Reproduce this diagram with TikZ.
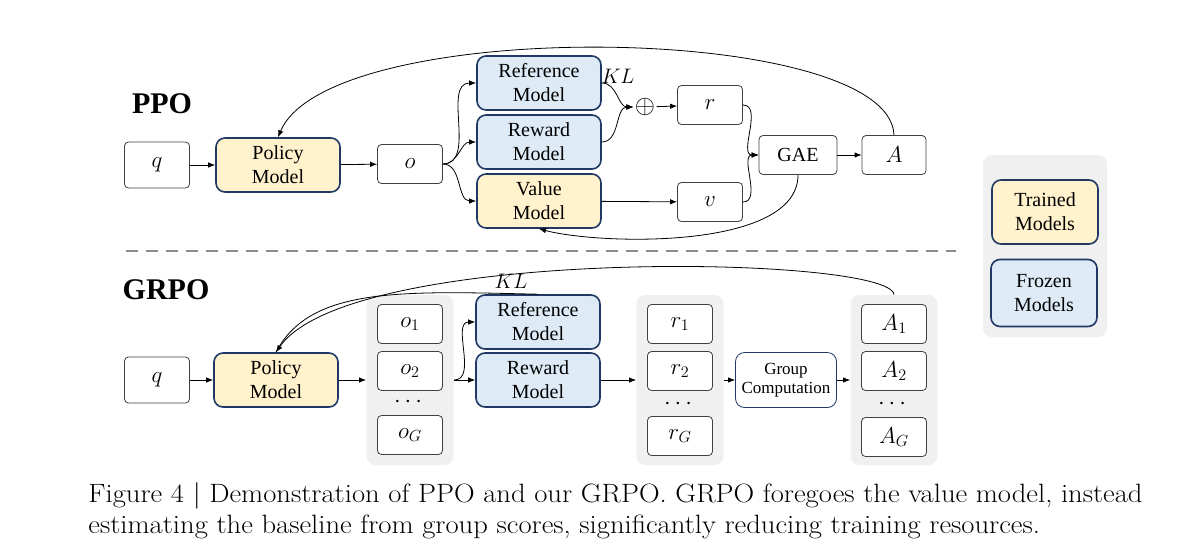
\documentclass[tikz,border=0pt]{standalone}
\usepackage{fix-cm}
\usepackage{amsmath}
\usepackage{amssymb}
\usepackage{fontspec}
\newfontfamily\diagfont{Liberation Serif}
\usepackage{tikz}
\usetikzlibrary{shapes,arrows.meta,positioning}
\definecolor{navy}{HTML}{1F3864}
\definecolor{trainfill}{HTML}{FFF2CC}
\definecolor{frozenfill}{HTML}{DEEBF7}
\definecolor{groupgray}{HTML}{F0F0F0}
\definecolor{dashgray}{HTML}{8C8C8C}

\begin{document}
\begin{tikzpicture}[->, >={Latex[length=7pt,width=5.5pt]}, x=1pt, y=1pt, line width=0.8pt]
        \tikzstyle{plain}=[draw=black!75, fill=white, rounded corners=4pt, line width=0.8pt, minimum width=65pt, minimum height=39pt, inner sep=0pt, font=\fontsize{23}{26}\selectfont]
        \tikzstyle{trained}=[draw=navy, fill=trainfill, rounded corners=9pt, line width=1.6pt, minimum width=124pt, minimum height=54pt, inner sep=0pt, align=center, font=\diagfont\fontsize{20}{24}\selectfont]
        \tikzstyle{frozen}=[trained, fill=frozenfill]
        \tikzstyle{groupbg}=[fill=groupgray, rounded corners=9pt, minimum width=87pt, minimum height=170pt, inner sep=0pt]
        \tikzstyle{title}=[font=\diagfont\bfseries\fontsize{30}{32}\selectfont]
        \tikzstyle{dots}=[font=\fontsize{24}{26}\selectfont, inner sep=0pt]
        \useasboundingbox (0,0) rectangle (1200,-550);

        % PPO
        \node[title]    (ppo)   at (162,-104)   {PPO};
        \node[plain, minimum height=46pt]    (q1)  at (157,-165)   {$q$};
        \node[trained]  (pol1)  at (278,-165)   {Policy\\Model};
        \node[plain]    (o)     at (410,-164)   {$o$};
        \node[frozen]   (ref1)  at (539,-83)    {Reference\\Model};
        \node[frozen]   (rew1)  at (539,-142)   {Reward\\Model};
        \node[trained]  (val)   at (539,-201)   {Value\\Model};
        \node[inner sep=1pt, font=\fontsize{26}{28}\selectfont] (sum) at (645,-107) {$\oplus$};
        \node[font=\fontsize{21}{24}\selectfont] (kl1) at (618,-76) {$KL$};
        \node[plain]    (r)     at (710,-105)   {$r$};
        \node[plain]    (v)     at (710,-202)   {$v$};
        \node[plain, minimum width=78pt, font=\diagfont\fontsize{20}{24}\selectfont] (gae) at (798,-155) {GAE};
        \node[plain, minimum width=64pt]     (adv) at (894,-155)   {$A$};

        \draw (q1) -- (pol1);
        \draw (pol1) -- (o);
        \draw (o.east) to[out=0,in=180] (ref1.west);
        \draw (o.east) to[out=0,in=180] (rew1.west);
        \draw (o.east) to[out=0,in=180] (val.west);
        \draw (ref1.east) to[out=0,in=180] (sum.west);
        \draw (rew1.east) to[out=0,in=180] (sum.west);
        \draw (sum) -- (r);
        \draw (val) -- (v);
        \draw (r.east) to[out=0,in=180] (gae.west);
        \draw (v.east) to[out=0,in=180] (gae.west);
        \draw (gae) -- (adv);
        \draw (gae.south) .. controls (798,-250) and (600,-245) .. (val.south);
        \draw (adv.north) .. controls (890,-22) and (330,-15) .. (pol1.north);

        \draw[-, dashgray, line width=2.5pt, dash pattern=on 12pt off 8pt] (126,-251) -- (956,-251);

        % GRPO
        \node[title]    (grpo)  at (166,-290)   {GRPO};
        \node[plain, minimum height=46pt]    (q2)  at (157,-380)   {$q$};
        \node[trained]  (pol2)  at (276,-380)   {Policy\\Model};
        \node[groupbg]  (ogrp)  at (410,-380)   {};
        \node[plain]    (o1)    at (410,-324)   {$o_1$};
        \node[plain]    (o2)    at (410,-371)   {$o_2$};
        \node[dots]     (odots) at (410,-402)   {$\cdots$};
        \node[plain]    (oG)    at (410,-435)   {$o_G$};
        \node[frozen]   (ref2)  at (538,-322)   {Reference\\Model};
        \node[frozen]   (rew2)  at (538,-380)   {Reward\\Model};
        \node[font=\fontsize{21}{24}\selectfont] (kl2) at (511,-281) {$KL$};
        \node[groupbg]  (rgrp)  at (680,-380)   {};
        \node[plain]    (r1)    at (680,-324)   {$r_1$};
        \node[plain]    (r2)    at (680,-371)   {$r_2$};
        \node[dots]     (rdots) at (680,-404)   {$\cdots$};
        \node[plain]    (rG)    at (680,-436)   {$r_G$};
        \node[plain, draw=navy, minimum width=101pt, minimum height=55pt, rounded corners=9pt, align=center, font=\diagfont\fontsize{17}{19}\selectfont] (gc) at (786,-380) {Group\\Computation};
        \node[groupbg]  (agrp)  at (894,-380)   {};
        \node[plain]    (A1)    at (894,-324)   {$A_1$};
        \node[plain]    (A2)    at (894,-371)   {$A_2$};
        \node[dots]     (adots) at (894,-404)   {$\cdots$};
        \node[plain]    (AG)    at (894,-437)   {$A_G$};

        \draw (q2) -- (pol2);
        \draw (pol2) -- (ogrp);
        \draw (ogrp.east) to[out=0,in=180] (ref2.west);
        \draw (ogrp.east) -- (rew2.west);
        \draw (rew2) -- (rgrp);
        \draw (rgrp) -- (gc);
        \draw (gc) -- (agrp);
        \draw (agrp.north) .. controls (890,-255) and (350,-245) .. (pol2.north);
        \draw[-] (ref2.north) .. controls (400,-291) and (310,-287) .. (pol2.north);

        % legend
        \node[groupbg, minimum width=124pt, minimum height=182pt] (legend) at (1045,-246) {};
        \node[trained, minimum width=106pt, minimum height=64pt] (trn) at (1045,-212) {Trained\\Models};
        \node[frozen, minimum width=106pt, minimum height=67pt]  (frz) at (1044,-293) {Frozen\\Models};

        % caption
        \node[anchor=west, align=left, inner sep=0pt, xscale=1.08, transform shape, font=\fontsize{26.5}{31}\selectfont] (caption) at (88,-511)
            {Figure 4 | Demonstration of PPO and our GRPO. GRPO foregoes the value model, instead\\estimating the baseline from group scores, significantly reducing training resources.};
\end{tikzpicture}
\end{document}
